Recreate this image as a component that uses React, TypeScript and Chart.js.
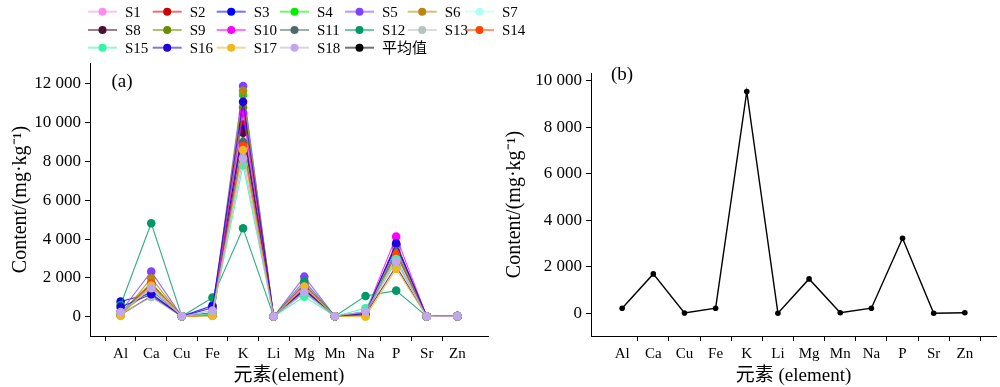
import React, { useEffect, useRef } from 'react';
import { Chart, registerables } from 'chart.js';

Chart.register(...registerables);

const elements = ['Al', 'Ca', 'Cu', 'Fe', 'K', 'Li', 'Mg', 'Mn', 'Na', 'P', 'Sr', 'Zn'];

const S1 = [150, 1500, 15, 150, 10200, 5, 1500, 20, 150, 3750, 5, 25];
const S2 = [120, 1700, 15, 120, 9900, 5, 1400, 20, 200, 3650, 5, 25];
const S3 = [780, 1200, 15, 570, 9660, 5, 1350, 20, 100, 3700, 5, 25];
const S4 = [200, 1750, 15, 150, 11430, 5, 1600, 20, 180, 3500, 5, 25];
const S5 = [250, 2320, 15, 200, 11890, 5, 2060, 20, 250, 3500, 5, 25];
const S6 = [60, 1980, 15, 50, 11650, 5, 1700, 20, 60, 3200, 5, 25];
const S7 = [180, 1450, 15, 120, 9300, 5, 1300, 20, 200, 3400, 5, 25];
const S8 = [100, 1050, 15, 80, 9490, 5, 1250, 20, 120, 2600, 5, 25];
const S9 = [150, 1600, 15, 100, 10800, 5, 1450, 20, 150, 3300, 5, 25];
const S10 = [200, 1650, 15, 150, 10500, 5, 1650, 20, 200, 4125, 5, 25];
const S11 = [200, 1350, 15, 200, 9000, 5, 1350, 20, 250, 3350, 5, 25];
const S12 = [600, 4815, 15, 980, 4555, 5, 1840, 20, 1065, 1340, 5, 25];
const S13 = [140, 1000, 15, 130, 8700, 5, 1200, 20, 150, 2900, 5, 25];
const S14 = [100, 1700, 15, 80, 8800, 5, 1500, 20, 100, 3270, 5, 25];
const S15 = [180, 1550, 15, 150, 7800, 5, 1030, 20, 430, 2975, 5, 25];
const S16 = [500, 1150, 15, 450, 11085, 5, 1400, 20, 150, 3780, 5, 25];
const S17 = [30, 1600, 15, 40, 8590, 5, 1550, 20, 0, 2460, 5, 25];
const S18 = [230, 1460, 15, 310, 8150, 5, 1255, 20, 260, 2835, 5, 25];
const meanValues = [215, 1690, 10, 215, 9530, 0, 1475, 20, 215, 3225, 0, 20];

const seriesValues = [S1, S2, S3, S4, S5, S6, S7, S8, S9, S10, S11, S12, S13, S14, S15, S16, S17, S18];
const seriesNames = ['S1', 'S2', 'S3', 'S4', 'S5', 'S6', 'S7', 'S8', 'S9', 'S10', 'S11', 'S12', 'S13', 'S14', 'S15', 'S16', 'S17', 'S18'];
const meanName = '平均值';

const seriesColors = [
  '249,143,234', '204,0,0', '0,0,255', '0,238,0', '128,64,255', '184,134,11',
  '176,255,240', '74,16,48', '107,142,0', '255,0,255', '79,106,106', '0,153,102',
  '180,196,192', '255,69,0', '51,245,165', '32,0,221', '240,184,32', '192,168,238',
];

const yTicksA = [0, 2000, 4000, 6000, 8000, 10000, 12000];
const yTicksB = [0, 2000, 4000, 6000, 8000, 10000];
const halfTicksA = [-0.5, 0.5, 1.5, 2.5, 3.5, 4.5, 5.5, 6.5, 7.5, 8.5, 9.5, 10.5];
const halfTicksB = [0.5, 1.5, 2.5, 3.5, 4.5, 5.5, 6.5, 7.5, 8.5, 9.5, 10.5, 11.5];

const FONT = "'Liberation Serif', 'Times New Roman', 'Noto Sans CJK SC', serif";

function fmt(v: number) {
  return String(v).replace(/\B(?=(\d{3})+(?!\d))/g, ' ');
}

function xScale(halfTicks: number[], titleText: string, height: number) {
  return {
    type: 'linear',
    min: -1,
    max: 12,
    afterBuildTicks: (scale: any) => {
      const vals = [...elements.map((_, i) => i), ...halfTicks].sort((a, b) => a - b);
      scale.ticks = vals.map((v) => ({ value: v }));
    },
    afterFit: (scale: any) => {
      scale.height = height;
    },
    ticks: {
      autoSkip: false,
      maxRotation: 0,
      minRotation: 0,
      padding: 4,
      color: '#000',
      font: { family: FONT, size: 15 },
      callback: (v: any) => (Number.isInteger(v) && elements[v] !== undefined ? elements[v] : ''),
    },
    grid: {
      display: true,
      drawOnChartArea: false,
      drawTicks: true,
      tickLength: 5,
      tickWidth: 1,
      tickColor: (ctx: any) =>
        ctx.tick && !Number.isInteger(ctx.tick.value) ? '#000' : 'rgba(0,0,0,0)',
    },
    border: { display: true, color: '#000', width: 1 },
    title: {
      display: true,
      text: titleText,
      color: '#000',
      font: { family: FONT, size: 19 },
      padding: { top: 0, bottom: 0 },
    },
  };
}

function yScale(min: number, max: number, ticksList: number[], width: number, titlePad: number) {
  return {
    type: 'linear',
    min,
    max,
    afterBuildTicks: (scale: any) => {
      scale.ticks = ticksList.map((v) => ({ value: v }));
    },
    afterFit: (scale: any) => {
      scale.width = width;
    },
    ticks: {
      padding: 4,
      color: '#000',
      font: { family: FONT, size: 17 },
      callback: (v: any) => fmt(Number(v)),
    },
    grid: {
      display: true,
      drawOnChartArea: false,
      drawTicks: true,
      tickLength: 5,
      tickWidth: 1,
      tickColor: '#000',
    },
    border: { display: true, color: '#000', width: 1 },
    title: {
      display: true,
      text: 'Content/(mg·kg⁻¹)',
      color: '#000',
      font: { family: FONT, size: 20 },
      padding: { top: titlePad, bottom: 0 },
    },
  };
}

function panelLabel(text: string, x: number, y: number) {
  return {
    id: 'panelLabel' + text,
    afterDraw(chart: any) {
      const ctx = chart.ctx;
      ctx.save();
      ctx.fillStyle = '#000';
      ctx.font = `19px ${FONT}`;
      ctx.textAlign = 'center';
      ctx.textBaseline = 'middle';
      ctx.fillText(text, x, y);
      ctx.restore();
    },
  };
}

const legendCols = [88, 152.7, 216.7, 280, 345, 407.7, 465];
const legendRows = [11.7, 30, 47.7];

const legendPlugin = {
  id: 'customLegend',
  afterDraw(chart: any) {
    const ctx = chart.ctx;
    const items = [
      ...seriesNames.map((n, i) => ({ name: n, rgb: seriesColors[i] })),
      { name: meanName, rgb: '0,0,0' },
    ];
    ctx.save();
    items.forEach((it, k) => {
      const col = k % 7;
      const row = Math.floor(k / 7);
      const x0 = legendCols[col];
      const y = legendRows[row];
      ctx.strokeStyle = `rgba(${it.rgb},0.55)`;
      ctx.lineWidth = 2;
      ctx.beginPath();
      ctx.moveTo(x0, y);
      ctx.lineTo(x0 + 29, y);
      ctx.stroke();
      ctx.fillStyle = `rgb(${it.rgb})`;
      ctx.beginPath();
      ctx.arc(x0 + 14.5, y, 4, 0, Math.PI * 2);
      ctx.fill();
      ctx.fillStyle = '#000';
      ctx.font = `15px ${FONT}`;
      ctx.textAlign = 'left';
      ctx.textBaseline = 'middle';
      ctx.fillText(it.name, x0 + 37, y + 1);
    });
    ctx.restore();
  },
};

export default function App() {
  const refA = useRef<HTMLCanvasElement>(null);
  const refB = useRef<HTMLCanvasElement>(null);

  useEffect(() => {
    const datasetsA = seriesValues.map((vals, i) => ({
      label: seriesNames[i],
      data: vals.map((v, j) => ({ x: j, y: v })),
      borderColor: `rgba(${seriesColors[i]},0.8)`,
      backgroundColor: `rgb(${seriesColors[i]})`,
      pointBackgroundColor: `rgb(${seriesColors[i]})`,
      pointBorderWidth: 0,
      pointRadius: 4.3,
      borderWidth: 1.1,
      tension: 0,
      order: seriesValues.length - i,
    }));

    const chartA = new Chart(refA.current as HTMLCanvasElement, {
      type: 'line',
      data: { datasets: datasetsA as any },
      options: {
        responsive: false,
        animation: false,
        layout: { padding: { top: 63, right: 545 - 488, left: 0, bottom: 0 } },
        plugins: { legend: { display: false }, tooltip: { enabled: false } },
        scales: {
          x: xScale(halfTicksA, '元素(element)', 51) as any,
          y: yScale(-1000, 13080, yTicksA, 90, 9) as any,
        },
      },
      plugins: [legendPlugin, panelLabel('(a)', 122, 82)],
    });

    const chartB = new Chart(refB.current as HTMLCanvasElement, {
      type: 'line',
      data: {
        datasets: [
          {
            label: meanName,
            data: meanValues.map((v, j) => ({ x: j, y: v })),
            borderColor: '#000',
            backgroundColor: '#000',
            pointBackgroundColor: '#000',
            pointBorderWidth: 0,
            pointRadius: 2.8,
            borderWidth: 1.4,
            tension: 0,
          },
        ] as any,
      },
      options: {
        responsive: false,
        animation: false,
        layout: { padding: { top: 73, right: 2, left: 0, bottom: 0 } },
        plugins: { legend: { display: false }, tooltip: { enabled: false } },
        scales: {
          x: xScale(halfTicksB, '元素 (element)', 51) as any,
          y: yScale(-980, 10330, yTicksB, 91, 3) as any,
        },
      },
      plugins: [panelLabel('(b)', 122, 75)],
    });

    return () => {
      chartA.destroy();
      chartB.destroy();
    };
  }, []);

  return (
    <div style={{ position: 'absolute', left: 0, top: 0, width: 1000, height: 387, background: '#fff' }}>
      <canvas ref={refA} width={545} height={387} style={{ position: 'absolute', left: 0, top: 0 }} />
      <canvas ref={refB} width={500} height={387} style={{ position: 'absolute', left: 500, top: 0 }} />
    </div>
  );
}
